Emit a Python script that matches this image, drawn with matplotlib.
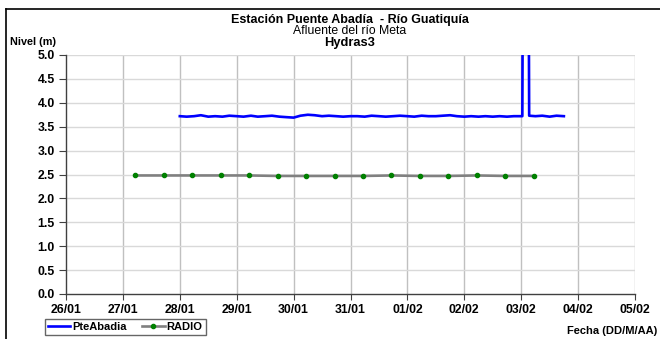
import matplotlib
matplotlib.use("Agg")
import matplotlib.pyplot as plt
from matplotlib.lines import Line2D

plt.rcParams['font.family'] = ['Liberation Sans', 'DejaVu Sans']

# Tick labels (one per day, day 0 = 26/01)
day_labels = ["26/01", "27/01", "28/01", "29/01", "30/01", "31/01",
              "01/02", "02/02", "03/02", "04/02", "05/02"]
y_ticks = [0.0, 0.5, 1.0, 1.5, 2.0, 2.5, 3.0, 3.5, 4.0, 4.5, 5.0]

# PteAbadia series (days since 26/01 00:00, level m)
pte_days = [2.00, 2.12, 2.25, 2.37, 2.50, 2.62, 2.75, 2.87, 3.00, 3.12,
            3.25, 3.37, 3.50, 3.62, 3.75, 3.87, 4.00, 4.12, 4.25, 4.37,
            4.50, 4.62, 4.75, 4.87, 5.00, 5.12, 5.25, 5.37, 5.50, 5.62,
            5.75, 5.87, 6.00, 6.12, 6.25, 6.37, 6.50, 6.62, 6.75, 6.87,
            7.00, 7.12, 7.25, 7.37, 7.50, 7.62, 7.75, 7.87, 8.02, 8.03,
            8.13, 8.14, 8.25, 8.37, 8.50, 8.62, 8.75]
pte_vals = [3.72, 3.71, 3.72, 3.74, 3.71, 3.72, 3.71, 3.73, 3.72, 3.71,
            3.73, 3.71, 3.72, 3.73, 3.71, 3.70, 3.69, 3.73, 3.75, 3.74,
            3.72, 3.73, 3.72, 3.71, 3.72, 3.72, 3.71, 3.73, 3.72, 3.71,
            3.72, 3.73, 3.72, 3.71, 3.73, 3.72, 3.72, 3.73, 3.74, 3.72,
            3.71, 3.72, 3.71, 3.72, 3.71, 3.72, 3.71, 3.72, 3.72, 7.00,
            7.00, 3.73, 3.72, 3.73, 3.71, 3.73, 3.72]

# RADIO series
radio_days = [1.22, 1.72, 2.22, 2.72, 3.22, 3.72, 4.22, 4.72, 5.22, 5.72,
              6.22, 6.72, 7.22, 7.72, 8.22]
radio_vals = [2.48, 2.48, 2.48, 2.48, 2.48, 2.47, 2.47, 2.47, 2.47, 2.48,
              2.47, 2.47, 2.48, 2.47, 2.47]

fig = plt.figure(figsize=(6.6, 3.39), dpi=100)
ax = fig.add_axes([66/660, 45/339, (635-66)/660, (294-55)/339])

ax.plot(pte_days, pte_vals, color='#0000ff', lw=1.9, zorder=3)
ax.plot(radio_days, radio_vals, color='#808080', lw=1.9, marker='o',
        markersize=3.0, markerfacecolor='#008000', markeredgecolor='#008000', zorder=3)

ax.set_xlim(0, 10)
ax.set_ylim(0, 5)
ax.set_xticks(range(len(day_labels)))
ax.set_xticklabels(day_labels, fontsize=8.8, fontweight='bold')
ax.set_yticks(y_ticks)
ax.set_yticklabels([f"{v:.1f}" for v in y_ticks], fontsize=8.8, fontweight='bold')

for x in range(1, 11):
    ax.axvline(x, color='#c0c0c0', lw=1.0, zorder=1)
for y in y_ticks[1:]:
    ax.axhline(y, color='#d9d9d9', lw=1.0, zorder=1)

for s in ['top', 'right']:
    ax.spines[s].set_visible(False)
for s in ['left', 'bottom']:
    ax.spines[s].set_color('#404040')
    ax.spines[s].set_linewidth(1.0)
ax.tick_params(axis='y', length=5, width=0.8, color='#404040', pad=3)
ax.tick_params(axis='x', length=4, width=0.8, color='#404040', pad=3)

# Titles
fig.text(350/660, 1 - 20/339, "Estación Puente Abadía  - Río Guatiquía",
         ha='center', va='center', fontsize=9.0, fontweight='bold')
fig.text(350/660, 1 - 31.5/339, "Afluente del río Meta",
         ha='center', va='center', fontsize=8.8)
fig.text(350/660, 1 - 43/339, "Hydras3",
         ha='center', va='center', fontsize=9.3, fontweight='bold')
fig.text(10/660, 1 - 42/339, "Nivel (m)", ha='left', va='center',
         fontsize=7.8, fontweight='bold')
fig.text(657/660, 1 - 331/339, "Fecha (DD/M/AA)", ha='right', va='center',
         fontsize=8.0, fontweight='bold')

# Legend
handles = [Line2D([], [], color='#0000ff', lw=1.9),
           Line2D([], [], color='#808080', lw=1.9, marker='o', markersize=3.0,
                  markerfacecolor='#008000', markeredgecolor='#008000')]
leg = fig.legend(handles, ["PteAbadia", "RADIO"], loc='lower left',
                 bbox_to_anchor=(45/660, 4/339), ncol=2, frameon=True,
                 fancybox=False, edgecolor='#404040',
                 prop={'weight': 'bold', 'size': 8.0},
                 handlelength=2.0, handletextpad=0.2, columnspacing=1.4,
                 borderpad=0.25, borderaxespad=0)
leg.get_frame().set_linewidth(1.0)

# Outer frame lines (partially cropped chart border)
fig.add_artist(Line2D([6/660, 1], [1 - 9/339, 1 - 9/339], color='black', lw=1.2,
                      transform=fig.transFigure))
fig.add_artist(Line2D([6/660, 6/660], [0, 1 - 9/339], color='black', lw=1.2,
                      transform=fig.transFigure))

fig.savefig("out.png", dpi=100)
